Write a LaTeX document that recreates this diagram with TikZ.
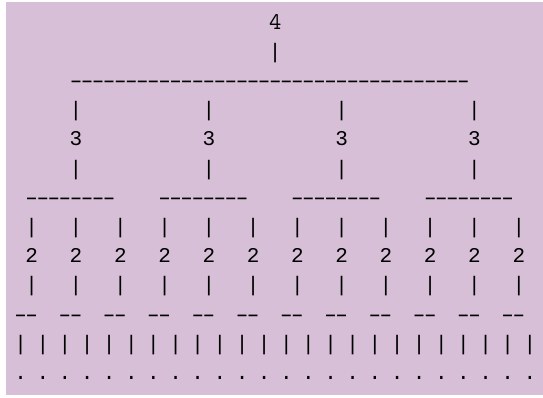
\documentclass[tikz,border=0pt]{standalone}
\usepackage{fontspec}
\newfontfamily\asciimono{Liberation Mono}
\definecolor{asciibg}{RGB}{216,191,216}
\newcommand{\asciifont}{\fontsize{21pt}{24pt}\selectfont\asciimono}
\newcommand{\rootfont}{\fontsize{24pt}{28pt}\selectfont\ttfamily}
\tikzset{glyph/.style={font=\asciifont, inner sep=0pt, anchor=base},
         dashglyph/.style={glyph, xscale=1.55, transform shape}}

\begin{document}
\begin{tikzpicture}[x=11.07pt, y=-29.2pt]
\useasboundingbox (-9.6pt,29pt) rectangle (533.4pt,-368pt);
\fill[asciibg] (-3.6pt,27.3pt) rectangle (533.4pt,-366pt);
% root
\node[glyph, font=\rootfont] (root) at (24,0) {4};
\node[glyph] (rootbar) at (24,1) {|};
\foreach \c in {6,...,41} \node[dashglyph] (topdash\c) at (\c,2) {-};
% level 3
\foreach \i/\c in {0/6, 1/18, 2/30, 3/42} {
  \node[glyph] (threeup\i) at (\c,3) {|};
  \node[glyph] (three\i) at (\c,4) {3};
  \node[glyph] (threedown\i) at (\c,5) {|};
  \foreach \k in {-4,...,3} \node[dashglyph] (threedash\i\k) at (\c+\k,6) {-};
}
% level 2
\foreach \i in {0,...,11} {
  \pgfmathtruncatemacro{\c}{2+4*\i}
  \node[glyph] (twoup\i) at (\c,7) {|};
  \node[glyph] (two\i) at (\c,8) {2};
  \node[glyph] (twodown\i) at (\c,9) {|};
  \node[dashglyph] (twodashl\i) at (\c-1,10) {-};
  \node[dashglyph] (twodashr\i) at (\c,10) {-};
}
% leaves
\foreach \j in {0,...,23} {
  \pgfmathtruncatemacro{\c}{1+2*\j}
  \node[glyph] (leaf\j) at (\c,11) {|};
  \node[glyph] (dot\j) at (\c,12) {.};
}
\end{tikzpicture}
\end{document}
